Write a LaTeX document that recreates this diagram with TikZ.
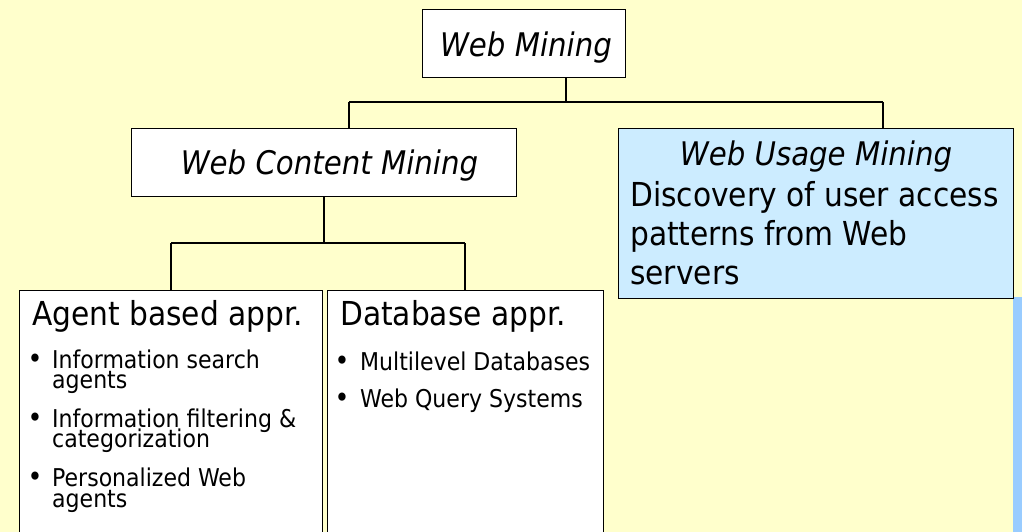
\documentclass[tikz,border=0pt]{standalone}
\usepackage{fontspec}
\setmainfont{DejaVu Sans Condensed}[ItalicFont={DejaVu Sans Condensed Oblique}]
\definecolor{bgyellow}{HTML}{FFFFCC}
\definecolor{lightblue}{HTML}{CCECFF}
\definecolor{stripblue}{HTML}{99CCFF}
\tikzset{
  box/.style={draw=black, line width=1.2pt, fill=white, inner sep=0pt, anchor=north west},
  conn/.style={draw=black, line width=1.2pt},
  ttl/.style={inner sep=0pt, anchor=base, font=\fontsize{32.5}{38}\selectfont\itshape},
  head/.style={inner sep=0pt, anchor=base west, font=\fontsize{33}{39}\selectfont},
  item/.style={inner sep=0pt, anchor=base west, font=\fontsize{24.5}{20}\selectfont},
  dot/.style={inner sep=0pt, anchor=base, font=\fontsize{28}{20}\selectfont},
  usage/.style={inner sep=0pt, anchor=base west, font=\fontsize{33}{39}\selectfont},
}
\begin{document}
\begin{tikzpicture}[x=1pt,y=-1pt]
\useasboundingbox (0,0) rectangle (1022,532);
\fill[bgyellow] (0,0) rectangle (1022,532);
\fill[stripblue] (1013,297) rectangle (1022,532);
% boxes
\node[box, minimum width=203pt, minimum height=68pt] (wm) at (422,9) {};
\node[box, minimum width=385pt, minimum height=68pt] (wcm) at (131,128) {};
\node[box, fill=lightblue, minimum width=395pt, minimum height=170pt] (wum) at (618,128) {};
\node[box, minimum width=303pt, minimum height=260pt] (agent) at (19,290) {};
\node[box, minimum width=276pt, minimum height=260pt] (db) at (327,290) {};
% connectors
\coordinate (j1) at (566,102);
\coordinate (j1l) at (349,102);
\coordinate (j1r) at (883,102);
\coordinate (j2) at (324,243);
\coordinate (j2l) at (171,243);
\coordinate (j2r) at (465,243);
\draw[conn] (wm.south -| j1) -- (j1);
\draw[conn] (j1l) -- (j1r);
\draw[conn] (j1l) -- (j1l |- wcm.north);
\draw[conn] (j1r) -- (j1r |- wum.north);
\draw[conn] (wcm.south -| j2) -- (j2);
\draw[conn] (j2l) -- (j2r);
\draw[conn] (j2l) -- (j2l |- agent.north);
\draw[conn] (j2r) -- (j2r |- db.north);
% texts
\node[ttl] (twm) at (526,57) {Web Mining};
\node[ttl] (twcm) at (329.5,174) {Web Content Mining};
\node[ttl] (twum) at (816,165) {Web Usage Mining};
\node[usage] (u1) at (630,206) {Discovery of user access};
\node[usage] (u2) at (630,245) {patterns from Web};
\node[usage] (u3) at (630,284) {servers};
\node[head] (ha) at (32,325) {Agent based appr.};
\node[head] (hd) at (340,325) {Database appr.};
\node[dot] (ba1) at (35,368) {•};
\node[item] (ia1) at (52,368) {Information search};
\node[item] (ia1b) at (52,388) {agents};
\node[dot] (ba2) at (35,427) {•};
\node[item] (ia2) at (52,427) {Information filtering \&};
\node[item] (ia2b) at (52,447) {categorization};
\node[dot] (ba3) at (35,486) {•};
\node[item] (ia3) at (52,486) {Personalized Web};
\node[item] (ia3b) at (52,507) {agents};
\node[dot] (bd1) at (342,370) {•};
\node[item] (id1) at (360,370) {Multilevel Databases};
\node[dot] (bd2) at (342,407) {•};
\node[item] (id2) at (360,407) {Web Query Systems};
\end{tikzpicture}
\end{document}
